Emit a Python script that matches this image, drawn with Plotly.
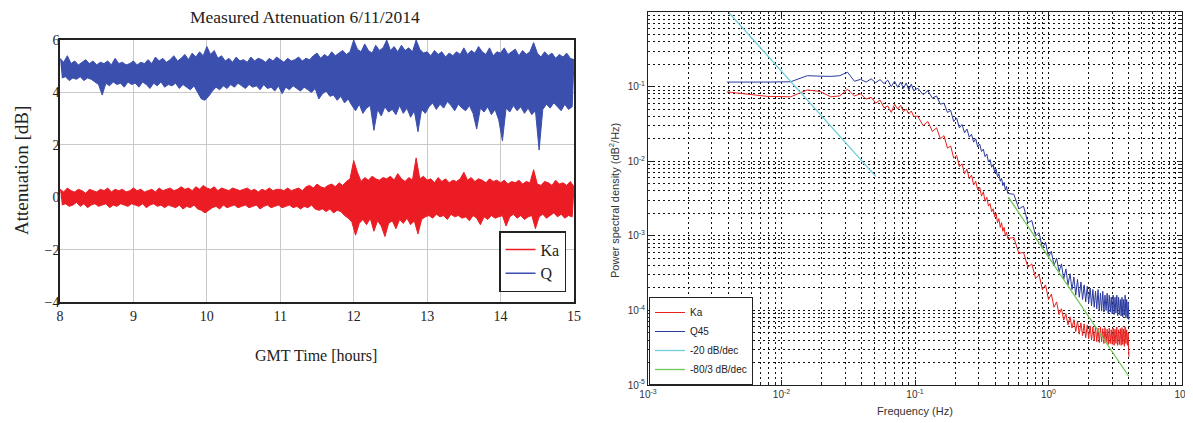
import numpy as np
import plotly.graph_objects as go

# ---------------- Left panel: measured attenuation (dB) ----------------
T_START, T_STEP = 8.0, 0.05   # sampling grid of the envelope readings (hours)

q_upper = [
    5.30, 5.15, 5.40, 5.10, 5.20, 5.05, 5.15, 5.25, 5.10, 5.20,
    5.05, 5.15, 5.10, 5.20, 5.05, 5.30, 5.10, 5.15, 5.05, 5.10,
    5.20, 5.05, 5.15, 5.10, 5.25, 5.10, 5.35, 5.20, 5.30, 5.15,
    5.25, 5.40, 5.20, 5.30, 5.45, 5.25, 5.50, 5.35, 5.55, 5.40,
    5.75, 5.45, 5.60, 5.30, 5.40, 5.20, 5.30, 5.15, 5.35, 5.20,
    5.25, 5.15, 5.35, 5.20, 5.30, 5.25, 5.15, 5.30, 5.20, 5.35,
    5.25, 5.15, 5.30, 5.20, 5.25, 5.35, 5.20, 5.30, 5.25, 5.40,
    5.50, 5.30, 5.45, 5.35, 5.55, 5.40, 5.50, 5.60, 5.45, 5.55,
    6.00, 5.65, 5.55, 5.85, 5.60, 5.50, 5.80, 5.60, 5.70, 6.00,
    5.60, 5.75, 5.55, 5.80, 5.60, 5.70, 5.55, 6.00, 5.65, 5.50,
    5.55, 5.40, 5.60, 5.45, 5.55, 5.35, 5.50, 5.40, 5.55, 5.45,
    5.70, 5.45, 5.60, 5.50, 5.75, 5.55, 5.45, 5.70, 5.40, 5.55,
    5.50, 5.70, 5.45, 5.55, 5.65, 5.40, 5.60, 5.45, 5.55, 5.90,
    5.50, 5.35, 5.55, 5.40, 5.50, 5.30, 5.45, 5.35, 5.50, 5.30,
    5.25,
]
q_lower = [
    4.55, 4.60, 4.45, 4.55, 4.50, 4.60, 4.45, 4.55, 4.50, 4.40,
    4.30, 3.90, 4.35, 4.25, 4.40, 4.30, 4.35, 4.20, 4.40, 4.30,
    4.35, 4.20, 4.40, 4.30, 4.15, 4.35, 4.25, 4.40, 4.20, 4.30,
    4.25, 4.35, 4.15, 4.30, 4.20, 4.10, 4.25, 4.00, 3.75, 3.70,
    3.85, 4.05, 4.20, 4.10, 4.25, 4.15, 4.30, 4.20, 4.35, 4.25,
    4.15, 4.30, 4.20, 4.25, 4.10, 4.30, 4.15, 4.20, 4.05, 4.25,
    3.95, 4.20, 4.10, 4.25, 4.15, 4.05, 4.20, 4.10, 4.00, 4.15,
    3.75, 3.95, 4.05, 3.85, 3.90, 3.70, 3.85, 3.60, 3.75, 3.50,
    3.30, 3.55, 3.20, 3.40, 3.50, 2.55, 3.35, 3.10, 3.45, 3.25,
    3.35, 3.15, 3.50, 3.20, 3.40, 3.05, 3.30, 2.50, 3.35, 3.20,
    3.45, 3.60, 3.35, 3.55, 3.40, 3.65, 3.50, 3.30, 3.55, 3.40,
    3.30, 3.50, 3.20, 2.60, 3.40, 3.25, 3.45, 3.15, 3.35, 2.95,
    2.15, 3.40, 3.25, 3.50, 3.30, 3.45, 3.20, 3.40, 3.15, 3.30,
    1.80, 3.35, 3.55, 3.40, 3.60, 3.45, 3.30, 3.55, 3.35, 3.45,
]
ka_upper = [
    0.30, 0.20, 0.35, 0.25, 0.20, 0.30, 0.25, 0.15, 0.30, 0.25,
    0.20, 0.30, 0.25, 0.35, 0.20, 0.30, 0.25, 0.30, 0.20, 0.25,
    0.35, 0.25, 0.30, 0.20, 0.25, 0.30, 0.20, 0.35, 0.25, 0.30,
    0.35, 0.25, 0.30, 0.40, 0.30, 0.35, 0.25, 0.40, 0.30, 0.45,
    0.35, 0.30, 0.40, 0.25, 0.35, 0.30, 0.25, 0.35, 0.30, 0.25,
    0.30, 0.35, 0.25, 0.30, 0.20, 0.30, 0.25, 0.35, 0.25, 0.30,
    0.30, 0.25, 0.35, 0.25, 0.30, 0.35, 0.25, 0.40, 0.45, 0.35,
    0.50, 0.40, 0.35, 0.45, 0.50, 0.40, 0.55, 0.45, 0.60, 0.70,
    1.40, 0.95, 0.60, 0.75, 0.65, 0.80, 0.70, 0.65, 0.75, 0.70,
    0.80, 0.65, 0.90, 0.70, 0.60, 0.75, 0.65, 1.50, 0.70, 0.80,
    0.65, 0.70, 0.55, 0.75, 0.60, 0.70, 0.55, 0.65, 0.60, 0.70,
    0.95, 0.65, 0.75, 0.60, 0.70, 0.65, 0.55, 0.70, 0.60, 0.65,
    0.55, 0.65, 0.50, 0.60, 0.55, 0.65, 0.50, 0.60, 0.55, 1.05,
    0.50, 0.45, 0.60, 0.55, 0.45, 0.65, 0.50, 0.55, 0.45, 0.60,
    0.40,
]
ka_lower = [
    -0.30, -0.25, -0.35, -0.30, -0.20, -0.35, -0.25, -0.40, -0.30, -0.25,
    -0.35, -0.30, -0.25, -0.40, -0.30, -0.35, -0.25, -0.30, -0.35, -0.25,
    -0.30, -0.35, -0.25, -0.40, -0.30, -0.25, -0.35, -0.30, -0.40, -0.30,
    -0.35, -0.40, -0.30, -0.45, -0.35, -0.40, -0.30, -0.45, -0.50, -0.60,
    -0.50, -0.40, -0.35, -0.45, -0.30, -0.40, -0.35, -0.30, -0.40, -0.35,
    -0.30, -0.40, -0.35, -0.30, -0.45, -0.35, -0.30, -0.40, -0.35, -0.30,
    -0.40, -0.35, -0.30, -0.40, -0.35, -0.45, -0.35, -0.40, -0.30, -0.45,
    -0.50, -0.45, -0.55, -0.45, -0.60, -0.50, -0.55, -0.70, -0.80, -0.95,
    -1.45, -1.00, -0.85, -1.05, -0.80, -1.30, -0.90, -1.10, -1.50, -1.00,
    -0.90, -1.20, -0.85, -1.00, -0.80, -1.05, -0.90, -1.40, -0.85, -0.75,
    -0.70, -0.80, -0.65, -0.75, -0.70, -0.85, -0.65, -0.75, -0.70, -0.80,
    -0.75, -0.90, -0.70, -0.80, -1.05, -0.75, -0.85, -0.70, -0.80, -0.75,
    -0.70, -1.10, -0.75, -0.65, -0.80, -0.70, -0.85, -0.75, -0.70, -1.20,
    -0.75, -0.65, -0.80, -0.70, -0.60, -0.75, -0.65, -0.80, -0.70, -0.75,
]

time_upper = np.round(T_START + T_STEP * np.arange(len(q_upper)), 3)
time_lower = np.round(time_upper[:-1] + T_STEP / 2, 3)


def band(t_hi, hi, t_lo, lo):
    """Closed outline: along the upper readings, back along the lower ones."""
    xs = list(t_hi) + list(t_lo)[::-1]
    ys = list(hi) + list(lo)[::-1]
    return xs, ys


ka_bx, ka_by = band(time_upper, ka_upper, time_lower, ka_lower)
q_bx, q_by = band(time_upper, q_upper, time_lower, q_lower)

# ---------------- Right panel: power spectral density ----------------
psd_freq_low = [0.0039, 0.0078, 0.0117, 0.0156, 0.0195, 0.0234, 0.0273, 0.0312,
                0.0352, 0.0391, 0.0430, 0.0469, 0.0508, 0.0547, 0.0586, 0.0625,
                0.0664, 0.0703, 0.0742, 0.0781, 0.0820, 0.0859, 0.0898, 0.0938, 0.0977]
psd_freq_mid = [0.105, 0.115, 0.125, 0.135, 0.145, 0.155, 0.165, 0.175, 0.185, 0.195,
                0.205, 0.215, 0.225, 0.235, 0.245, 0.255, 0.265, 0.275, 0.285, 0.295,
                0.305, 0.315, 0.325, 0.335, 0.345, 0.355, 0.365, 0.375, 0.385, 0.395,
                0.405, 0.415, 0.425, 0.435, 0.445, 0.455, 0.465, 0.475, 0.485, 0.495]
psd_freq_high = [0.55, 0.60, 0.65, 0.70, 0.75, 0.80, 0.85, 0.90, 0.95, 1.00,
                 1.05, 1.10, 1.15, 1.20, 1.25, 1.30, 1.35, 1.40, 1.45, 1.50,
                 1.55, 1.60, 1.65, 1.70, 1.75, 1.80, 1.85, 1.90, 1.95, 2.00,
                 2.05, 2.10, 2.15, 2.20, 2.25, 2.30, 2.35, 2.40, 2.45, 2.50,
                 2.55, 2.60, 2.65, 2.70, 2.75, 2.80, 2.85, 2.90, 2.95, 3.00,
                 3.05, 3.10, 3.15, 3.20, 3.25, 3.30, 3.35, 3.40, 3.45, 3.50,
                 3.55, 3.60, 3.65, 3.70, 3.75, 3.80, 3.85, 3.90, 3.95, 4.00]

q45_psd_low = [0.115, 0.115, 0.116, 0.140, 0.138, 0.137, 0.140, 0.156,
               0.118, 0.125, 0.115, 0.127, 0.113, 0.124, 0.110, 0.122,
               0.100, 0.118, 0.098, 0.115, 0.095, 0.112, 0.090, 0.108, 0.088]
q45_psd_mid = [0.095, 0.078, 0.088, 0.070, 0.075, 0.058, 0.060, 0.045, 0.048, 0.034,
               0.038, 0.028, 0.031, 0.024, 0.027, 0.021, 0.023, 0.018, 0.020, 0.0155,
               0.017, 0.0135, 0.0145, 0.0115, 0.0125, 0.0098, 0.0105, 0.0083, 0.0090, 0.0071,
               0.0078, 0.0062, 0.0068, 0.0054, 0.0059, 0.0047, 0.0052, 0.0041, 0.0046, 0.0037]
q45_psd_high = [0.0036, 0.0023, 0.0025, 0.0015, 0.0016, 0.0010, 0.0011, 0.00068, 0.00082, 0.00052,
                0.00062, 0.00040, 0.00050, 0.00033, 0.00042, 0.00026, 0.00036, 0.00022, 0.00031, 0.00019,
                0.00028, 0.00016, 0.00026, 0.00015, 0.00024, 0.00014, 0.00022, 0.00013, 0.00021, 0.000125,
                0.00020, 0.000115, 0.00019, 0.000110, 0.00018, 0.000105, 0.00019, 0.000100, 0.00017, 0.000098,
                0.00018, 0.000095, 0.00016, 0.000100, 0.00017, 0.000092, 0.00016, 0.000095, 0.00015, 0.000090,
                0.00016, 0.000088, 0.00015, 0.000092, 0.00016, 0.000085, 0.00015, 0.000088, 0.00014, 0.000084,
                0.00015, 0.000082, 0.00014, 0.000086, 0.00016, 0.000080, 0.00014, 0.000078, 0.00013, 0.000075]

ka_psd_low = [0.085, 0.074, 0.073, 0.090, 0.086, 0.073, 0.075, 0.092,
              0.075, 0.080, 0.068, 0.072, 0.060, 0.066, 0.052, 0.055,
              0.045, 0.058, 0.050, 0.056, 0.046, 0.050, 0.043, 0.047, 0.040]
ka_psd_mid = [0.040, 0.030, 0.034, 0.025, 0.028, 0.020, 0.022, 0.015, 0.016, 0.011,
              0.012, 0.0085, 0.0092, 0.0068, 0.0078, 0.0058, 0.0065, 0.0048, 0.0054, 0.0041,
              0.0045, 0.0034, 0.0039, 0.0029, 0.0033, 0.0025, 0.0027, 0.0021, 0.0023, 0.0018,
              0.0020, 0.0015, 0.0017, 0.0013, 0.0015, 0.00115, 0.0013, 0.00100, 0.00112, 0.00092]
ka_psd_high = [0.00095, 0.00058, 0.00060, 0.00038, 0.00042, 0.00027, 0.00030, 0.00019, 0.00022, 0.000140,
               0.000165, 0.000110, 0.000130, 0.000088, 0.000105, 0.000074, 0.000090, 0.000064, 0.000082, 0.000058,
               0.000075, 0.000052, 0.000072, 0.000048, 0.000068, 0.000046, 0.000066, 0.000043, 0.000064, 0.000042,
               0.000062, 0.000040, 0.000060, 0.000039, 0.000061, 0.000038, 0.000058, 0.000037, 0.000060, 0.000038,
               0.000057, 0.000036, 0.000059, 0.000037, 0.000056, 0.000035, 0.000058, 0.000036, 0.000055, 0.000035,
               0.000058, 0.000034, 0.000056, 0.000036, 0.000060, 0.000034, 0.000055, 0.000035, 0.000057, 0.000034,
               0.000059, 0.000035, 0.000056, 0.000033, 0.000060, 0.000036, 0.000055, 0.000034, 0.000050, 0.000024]

slope20_freq = [0.004, 0.051]
slope20_psd = [1.0, 0.0062]
slope80_3_freq = [0.5, 4.0]
slope80_3_psd = [0.0033, 0.000013]

psd_freq = psd_freq_low + psd_freq_mid + psd_freq_high
ka_psd = ka_psd_low + ka_psd_mid + ka_psd_high
q45_psd = q45_psd_low + q45_psd_mid + q45_psd_high

# ---------------- Figure ----------------
# The page body keeps its default 8px margin, so the figure is drawn 8px in
# from the window corner; layout targets below are given in window pixels.
OFF = 8
W, H = 1193 - OFF, 423 - OFF
RED_L, BLUE_L = "#ec1c24", "#3b4fae"
RED_R, BLUE_R = "#e8201e", "#2b3a9e"
CYAN, GREEN = "#6fd0dc", "#72c75a"
SERIF = "Liberation Serif"
SANS = "Liberation Sans"


def fx(px):
    return (px - OFF) / W


def fy(py):
    return (H - (py - OFF)) / H


def px_x(a, b):
    return [fx(a), fx(b)]


def px_y(top, bottom):
    return [fy(bottom), fy(top)]


fig = go.Figure()

fig.add_trace(go.Scatter(x=ka_bx, y=ka_by, mode="lines", fill="toself", fillcolor=RED_L,
                         line=dict(color=RED_L, width=1, simplify=False),
                         xaxis="x", yaxis="y", showlegend=False, hoverinfo="skip"))
fig.add_trace(go.Scatter(x=q_bx, y=q_by, mode="lines", fill="toself", fillcolor=BLUE_L,
                         line=dict(color=BLUE_L, width=1, simplify=False),
                         xaxis="x", yaxis="y", showlegend=False, hoverinfo="skip"))
fig.add_trace(go.Scatter(x=[None], y=[None], mode="lines", name="Ka",
                         line=dict(color=RED_L, width=1.5), xaxis="x", yaxis="y",
                         legend="legend"))
fig.add_trace(go.Scatter(x=[None], y=[None], mode="lines", name="Q",
                         line=dict(color=BLUE_L, width=1.5), xaxis="x", yaxis="y",
                         legend="legend"))

fig.add_trace(go.Scatter(x=psd_freq, y=ka_psd, mode="lines", name="Ka",
                         line=dict(color=RED_R, width=1, simplify=False), xaxis="x2", yaxis="y2",
                         legend="legend2"))
fig.add_trace(go.Scatter(x=psd_freq, y=q45_psd, mode="lines", name="Q45",
                         line=dict(color=BLUE_R, width=1, simplify=False), xaxis="x2", yaxis="y2",
                         legend="legend2"))
fig.add_trace(go.Scatter(x=slope20_freq, y=slope20_psd, mode="lines", name="-20 dB/dec",
                         line=dict(color=CYAN, width=1.3), xaxis="x2", yaxis="y2",
                         legend="legend2"))
fig.add_trace(go.Scatter(x=slope80_3_freq, y=slope80_3_psd, mode="lines", name="-80/3 dB/dec",
                         line=dict(color=GREEN, width=1.3), xaxis="x2", yaxis="y2",
                         legend="legend2"))

grid_dash = "2px,3px"


def sup(e):
    return "10<sup>%d</sup>" % e


fig.update_layout(
    width=W, height=H,
    margin=dict(l=0, r=0, t=0, b=0, autoexpand=False),
    paper_bgcolor="white", plot_bgcolor="white",
    xaxis=dict(domain=px_x(60, 574), range=[8, 15], dtick=1, anchor="y", automargin=False,
               showgrid=True, gridcolor="#c9c9c9", gridwidth=1.3, zeroline=False,
               showline=True, linecolor="#222", linewidth=1.5, mirror=True,
               ticks="", tickfont=dict(family=SERIF, size=14, color="#222")),
    yaxis=dict(domain=px_y(40, 302), range=[-4, 6], dtick=2, anchor="x", automargin=False,
               showgrid=True, gridcolor="#c9c9c9", gridwidth=1.3, zeroline=False,
               showline=True, linecolor="#222", linewidth=1.5, mirror=True,
               ticks="", ticklabelstandoff=-4,
               tickfont=dict(family=SERIF, size=14, color="#222")),
    xaxis2=dict(domain=px_x(648, 1182), type="log", range=[-3, 1], anchor="y2", automargin=False,
                tickmode="array", tickvals=[0.001, 0.01, 0.1, 1, 10],
                ticktext=[sup(e) for e in (-3, -2, -1, 0, 1)],
                showgrid=True, gridcolor="#111", griddash=grid_dash, gridwidth=1,
                minor=dict(dtick="D1", showgrid=True, gridcolor="#111",
                           griddash=grid_dash, gridwidth=1, ticks="inside", ticklen=2,
                           tickcolor="#222"),
                zeroline=False, showline=True, linecolor="#222", linewidth=1,
                mirror="allticks", ticks="inside", ticklen=5, tickcolor="#222",
                tickfont=dict(family=SANS, size=10, color="#333")),
    yaxis2=dict(domain=px_y(12, 385), type="log", range=[-5, 0], anchor="x2", automargin=False,
                tickmode="array", tickvals=[1e-5, 1e-4, 1e-3, 1e-2, 1e-1, 1],
                ticktext=[sup(e) for e in (-5, -4, -3, -2, -1, 0)],
                showgrid=True, gridcolor="#111", griddash=grid_dash, gridwidth=1,
                minor=dict(dtick="D1", showgrid=True, gridcolor="#111",
                           griddash=grid_dash, gridwidth=1, ticks="inside", ticklen=2,
                           tickcolor="#222"),
                zeroline=False, showline=True, linecolor="#222", linewidth=1,
                mirror="allticks", ticks="inside", ticklen=5, tickcolor="#222",
                tickfont=dict(family=SANS, size=10, color="#333")),
    legend=dict(x=fx(566), xanchor="right", y=fy(292), yanchor="bottom",
                bgcolor="white", bordercolor="#222", borderwidth=1.5,
                font=dict(family=SERIF, size=16, color="#222"),
                itemwidth=30, tracegroupgap=0),
    legend2=dict(x=fx(649), xanchor="left", y=fy(385), yanchor="bottom",
                 bgcolor="white", bordercolor="#222", borderwidth=1,
                 font=dict(family=SANS, size=10, color="#222"),
                 itemwidth=30, tracegroupgap=0),
    annotations=[
        dict(text="Measured Attenuation 6/11/2014", x=fx(305), y=fy(17),
             xanchor="center", yanchor="middle",
             xref="paper", yref="paper", showarrow=False,
             font=dict(family=SERIF, size=17.5, color="#222")),
        dict(text="GMT Time [hours]", x=fx(316), y=fy(355),
             xanchor="center", yanchor="middle",
             xref="paper", yref="paper", showarrow=False,
             font=dict(family=SERIF, size=16, color="#222")),
        dict(text="Attenuation [dB]", x=fx(21), y=fy(171), textangle=-90,
             xanchor="center", yanchor="middle",
             xref="paper", yref="paper", showarrow=False,
             font=dict(family=SERIF, size=19, color="#222")),
        dict(text="Frequency (Hz)", x=fx(915), y=fy(411),
             xanchor="center", yanchor="middle",
             xref="paper", yref="paper", showarrow=False,
             font=dict(family=SANS, size=11, color="#333")),
        dict(text="Power spectral density (dB<sup>2</sup>/Hz)", x=fx(614), y=fy(200),
             textangle=-90, xanchor="center", yanchor="middle",
             xref="paper", yref="paper", showarrow=False,
             font=dict(family=SANS, size=11, color="#333")),
    ],
)

fig.write_html("out.html")
